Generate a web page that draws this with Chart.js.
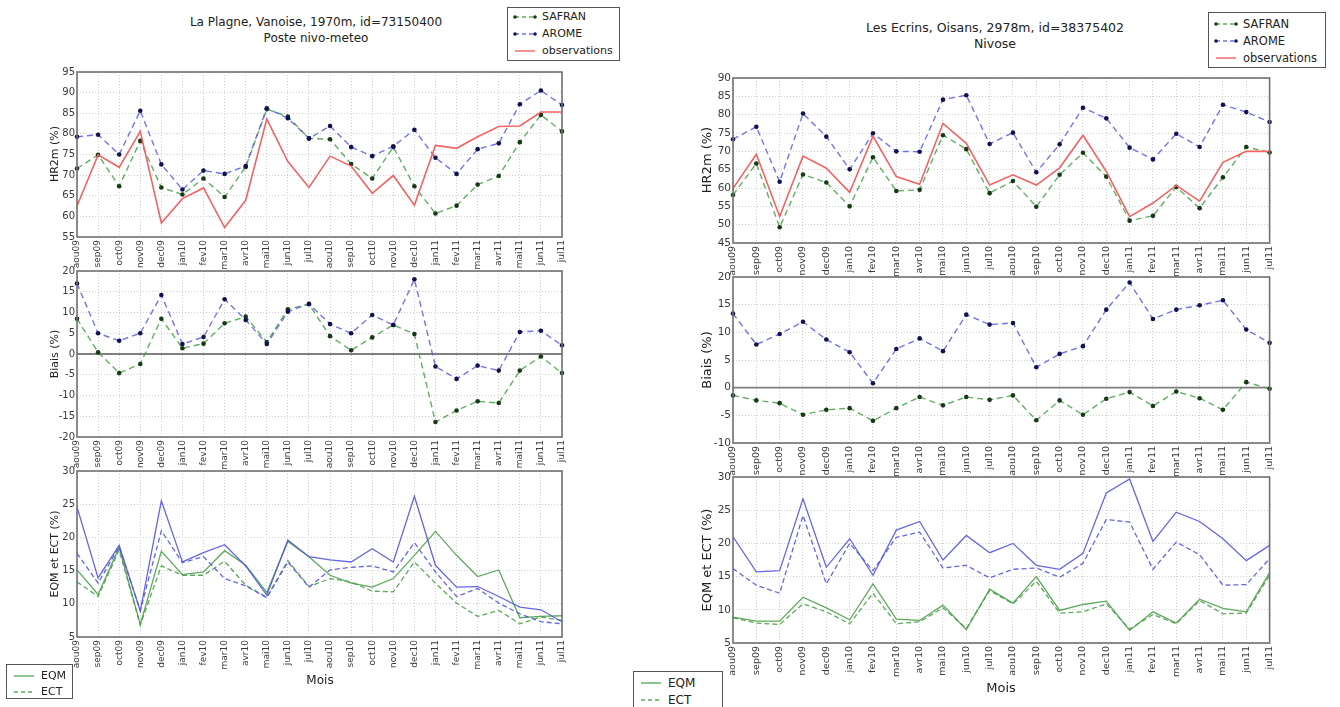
<!DOCTYPE html>
<html>
<head>
<meta charset="utf-8">
<script src="https://cdn.jsdelivr.net/npm/chart.js@4.4.1/dist/chart.umd.min.js"></script>
<style>
  html, body { margin: 0; padding: 0; background: #fff; }
  #root { position: relative; width: 1340px; height: 707px; overflow: hidden; font-family: "DejaVu Sans", sans-serif; color: #222; }
  canvas { position: absolute; }
  .txt { position: absolute; white-space: nowrap; }
  .title { transform: translateX(-50%); text-align: center; line-height: 16px; }
  .ylab { transform: translate(-50%, -50%) rotate(-90deg); }
  .xlab { transform: translate(-50%, -50%); }
  .legend { position: absolute; border: 1px solid #555; background: #fff; box-sizing: border-box; }
  .legend svg { position: absolute; }
  .legend span { position: absolute; }
</style>
</head>
<body>
<div id="root"></div>
<script>
// Months from August 2009 to July 2011
const months = ['aou09','sep09','oct09','nov09','dec09','jan10','fev10','mar10','avr10','mai10','jun10','jul10',
                'aou10','sep10','oct10','nov10','dec10','jan11','fev11','mar11','avr11','mai11','jun11','jul11'];

// La Plagne, Vanoise (1970 m) — relative humidity at 2 m (%)
const plagneSafranHR = [71.6,74.9,67.3,78.3,67.0,65.3,69.2,64.7,72.0,86.0,84.2,78.9,78.7,72.7,69.2,76.8,67.3,60.7,62.6,67.7,69.8,78.0,84.6,80.6];
const plagneAromeHR  = [79.3,79.8,75.0,85.6,72.6,66.5,71.1,70.3,72.2,86.2,83.8,78.9,81.9,76.8,74.6,77.0,81.0,74.2,70.3,76.3,77.7,87.2,90.5,87.0];
const plagneObsHR    = [62.5,74.9,71.9,80.6,58.4,64.3,66.9,57.3,63.9,83.6,73.3,67.0,74.6,72.2,65.6,69.9,62.7,77.2,76.5,79.3,81.8,81.9,85.3,85.3];
// La Plagne — bias (%)
const plagneSafranBias = [8.5,0.4,-4.6,-2.4,8.5,1.4,2.5,7.4,9.0,2.9,10.8,12.0,4.3,0.9,4.0,7.0,4.8,-16.4,-13.6,-11.4,-11.8,-4.0,-0.6,-4.6];
const plagneAromeBias  = [17.0,5.0,3.2,5.0,14.2,2.4,4.1,13.2,8.2,2.4,10.2,12.1,7.2,5.0,9.4,7.0,18.0,-3.0,-6.0,-2.8,-4.0,5.3,5.6,2.1];
// La Plagne — RMSE (EQM) and standard deviation of error (ECT) (%)
const plagneAromeEQM  = [24.6,13.9,18.8,8.9,25.5,16.3,17.7,18.9,15.7,11.3,19.6,17.1,16.6,16.3,18.3,16.3,26.2,15.8,12.5,12.6,11.1,9.5,9.1,7.3];
const plagneAromeECT  = [17.6,13.1,18.6,9.0,21.0,16.2,17.1,13.8,12.7,10.9,16.3,12.5,15.1,15.5,15.7,14.8,19.2,14.8,11.1,12.3,10.1,8.5,7.3,7.0];
const plagneSafranEQM = [15.1,11.4,18.5,6.9,17.9,14.4,14.8,18.0,15.8,11.7,19.4,17.1,14.3,13.1,12.5,13.8,17.3,20.9,17.3,14.1,15.1,7.9,8.1,8.2];
const plagneSafranECT = [13.3,11.1,18.1,6.8,15.7,14.3,14.3,16.4,12.8,11.0,16.5,12.6,13.8,13.3,11.9,11.8,16.3,13.1,10.1,8.1,9.0,7.0,8.0,7.5];

// Les Ecrins, Oisans (2978 m) — relative humidity at 2 m (%)
const ecrinsSafranHR = [58.1,66.7,49.3,63.7,61.5,55.0,68.4,59.2,59.5,74.4,70.6,58.6,61.9,54.9,63.6,69.6,63.1,51.1,52.4,60.3,54.5,62.9,71.2,69.7];
const ecrinsAromeHR  = [73.3,76.7,61.7,80.3,74.0,65.1,74.9,70.0,69.9,84.1,85.3,72.0,75.1,64.3,71.9,81.9,79.0,71.0,67.8,74.8,71.2,82.7,80.7,78.0];
const ecrinsObsHR    = [59.9,69.2,52.2,68.7,65.4,58.8,74.1,63.1,61.0,77.6,72.2,60.8,63.6,60.8,65.5,74.4,64.5,52.2,55.9,60.7,56.4,67.0,70.0,70.0];
// Les Ecrins — bias (%)
const ecrinsSafranBias = [-1.4,-2.3,-2.8,-4.9,-4.0,-3.7,-6.0,-3.7,-1.7,-3.2,-1.7,-2.2,-1.4,-5.9,-2.3,-4.9,-2.0,-0.8,-3.3,-0.7,-1.9,-4.0,1.0,-0.2];
const ecrinsAromeBias  = [13.4,7.8,9.7,11.9,8.7,6.4,0.8,7.0,8.9,6.6,13.2,11.4,11.7,3.7,6.1,7.5,14.1,19.0,12.4,14.1,14.9,15.8,10.5,8.1];
// Les Ecrins — EQM and ECT (%)
const ecrinsAromeEQM  = [21.0,15.7,15.9,26.7,16.4,20.7,15.2,22.0,23.3,17.5,21.2,18.6,20.0,16.7,16.1,18.5,27.6,29.7,20.3,24.7,23.3,20.7,17.4,19.7];
const ecrinsAromeECT  = [16.2,13.7,12.5,24.2,13.9,20.0,15.9,20.9,21.7,16.3,16.7,14.8,16.1,16.3,14.9,17.0,23.6,23.2,16.1,20.2,18.3,13.7,13.8,17.7];
const ecrinsSafranEQM = [8.9,8.3,8.3,11.9,10.3,8.5,13.9,8.6,8.4,10.7,7.0,13.1,11.0,15.0,9.9,10.8,11.3,6.9,9.7,8.0,11.6,10.2,9.7,15.6];
const ecrinsSafranECT = [8.8,8.0,7.8,10.9,9.7,7.9,12.5,7.9,8.2,10.3,7.2,12.9,10.9,14.3,9.5,9.7,10.9,7.1,9.3,7.9,11.4,9.4,9.5,15.2];

const FONT = '"DejaVu Sans", sans-serif';
const C_SAFRAN = 'rgba(70,160,70,0.85)';
const C_SAFRAN_PT = '#183818';
const C_AROME = 'rgba(90,90,230,0.85)';
const C_AROME_PT = '#12124e';
const C_OBS = '#f26464';
const C_EQM_BLUE = 'rgba(85,85,225,0.9)';
const C_EQM_GREEN = 'rgba(75,160,75,0.9)';

const root = document.getElementById('root');

// outer frame of each axes box
const framePlugin = {
  id: 'frame',
  afterDatasetsDraw(chart) {
    const a = chart.chartArea, ctx = chart.ctx;
    ctx.save();
    ctx.strokeStyle = '#707070';
    ctx.lineWidth = 1.6;
    ctx.strokeRect(a.left, a.top, a.right - a.left, a.bottom - a.top);
    ctx.restore();
  }
};
// horizontal reference line at zero for the bias panels
const zeroPlugin = {
  id: 'zeroLine',
  beforeDatasetsDraw(chart, args, opts) {
    if (!opts || !opts.show) return;
    const y = chart.scales.y.getPixelForValue(0);
    const a = chart.chartArea, ctx = chart.ctx;
    ctx.save();
    ctx.strokeStyle = '#808080';
    ctx.lineWidth = 1.8;
    ctx.beginPath(); ctx.moveTo(a.left, y); ctx.lineTo(a.right, y); ctx.stroke();
    ctx.restore();
  }
};

function dashedSeries(data, color, ptColor) {
  return { data, borderColor: color, borderWidth: 1.4, borderDash: [6, 4], pointRadius: 2.3,
           pointBackgroundColor: ptColor, pointBorderWidth: 0, tension: 0, fill: false };
}
function solidSeries(data, color, width) {
  return { data, borderColor: color, borderWidth: width, pointRadius: 0, tension: 0, fill: false };
}

function panel(box, yMin, yMax, datasets, cfg) {
  const PADL = 34, PADT = 9, PADR = 14, PADB = 40;
  const cv = document.createElement('canvas');
  cv.width = box.w + PADL + PADR;
  cv.height = box.h + PADT + PADB;
  cv.style.left = (box.x - PADL) + 'px';
  cv.style.top = (box.y - PADT) + 'px';
  cv.style.width = cv.width + 'px';
  cv.style.height = cv.height + 'px';
  root.appendChild(cv);
  const gridColor = '#cfcfcf';
  new Chart(cv, {
    type: 'line',
    data: { labels: months, datasets },
    plugins: [framePlugin, zeroPlugin],
    options: {
      responsive: false, animation: false, devicePixelRatio: 1,
      layout: { padding: { top: PADT, right: PADR, left: 0, bottom: 0 } },
      plugins: { legend: { display: false }, tooltip: { enabled: false }, zeroLine: { show: !!cfg.zero } },
      scales: {
        x: {
          type: 'category', offset: false,
          grid: { color: gridColor, lineWidth: 1, drawTicks: false },
          border: { display: false, dash: [1, 2] },
          ticks: { autoSkip: false, maxRotation: 90, minRotation: 90, padding: 3,
                   color: '#3a3a3a', font: { family: FONT, size: cfg.xFont } },
          afterFit(s) { s.height = PADB; }
        },
        y: {
          min: yMin, max: yMax,
          grid: { color: gridColor, lineWidth: 1, drawTicks: false },
          border: { display: false, dash: [1, 2] },
          ticks: { stepSize: 5, padding: 2, color: '#3a3a3a', font: { family: FONT, size: cfg.yFont } },
          afterFit(s) { s.width = PADL; }
        }
      }
    }
  });
}

function text(str, x, y, cls, size) {
  const d = document.createElement('div');
  d.className = 'txt ' + cls;
  d.style.left = x + 'px';
  d.style.top = y + 'px';
  d.style.fontSize = size + 'px';
  d.innerHTML = str;
  root.appendChild(d);
}

function lineLegend(x, y, w, h, rows, size) {
  const box = document.createElement('div');
  box.className = 'legend';
  box.style.left = x + 'px'; box.style.top = y + 'px';
  box.style.width = w + 'px'; box.style.height = h + 'px';
  rows.forEach(r => {
    const svg = document.createElementNS('http://www.w3.org/2000/svg', 'svg');
    svg.setAttribute('width', '26'); svg.setAttribute('height', '10');
    svg.style.left = '4px'; svg.style.top = (r.y - 5) + 'px';
    let inner = '<line x1="3" y1="5" x2="23" y2="5" stroke="' + r.color + '" stroke-width="1.4"' +
                (r.dash ? ' stroke-dasharray="' + r.dash + '"' : '') + '/>';
    if (r.pt) inner += '<circle cx="3" cy="5" r="1.8" fill="' + r.pt + '"/><circle cx="23" cy="5" r="1.8" fill="' + r.pt + '"/>';
    svg.innerHTML = inner;
    box.appendChild(svg);
    const s = document.createElement('span');
    s.textContent = r.label;
    s.style.left = '34px';
    s.style.top = (r.y - size * 0.62) + 'px';
    s.style.fontSize = size + 'px';
    box.appendChild(s);
  });
  root.appendChild(box);
}

// ---------- La Plagne (left column) ----------
const L = { x: 77, w: 485 };
panel({ x: L.x, y: 72, w: L.w, h: 165 }, 55, 95, [
  Object.assign(solidSeries(plagneObsHR, C_OBS, 1.6), { order: 0 }),
  Object.assign(dashedSeries(plagneAromeHR, C_AROME, C_AROME_PT), { order: 1 }),
  Object.assign(dashedSeries(plagneSafranHR, C_SAFRAN, C_SAFRAN_PT), { order: 2 })
], { xFont: 9, yFont: 10 });
panel({ x: L.x, y: 271, w: L.w, h: 166 }, -20, 20, [
  dashedSeries(plagneAromeBias, C_AROME, C_AROME_PT),
  dashedSeries(plagneSafranBias, C_SAFRAN, C_SAFRAN_PT)
], { xFont: 9, yFont: 10, zero: true });
panel({ x: L.x, y: 471, w: L.w, h: 166 }, 5, 30, [
  solidSeries(plagneAromeEQM, C_EQM_BLUE, 1.3),
  Object.assign(solidSeries(plagneAromeECT, C_EQM_BLUE, 1.3), { borderDash: [5, 3] }),
  solidSeries(plagneSafranEQM, C_EQM_GREEN, 1.3),
  Object.assign(solidSeries(plagneSafranECT, C_EQM_GREEN, 1.3), { borderDash: [5, 3] })
], { xFont: 9, yFont: 10 });

text('La Plagne, Vanoise, 1970m, id=73150400<br>Poste nivo-meteo', 316, 14, 'title', 12);
text('HR2m (%)', 54, 154, 'ylab', 11);
text('Biais (%)', 54, 354, 'ylab', 11);
text('EQM et ECT (%)', 54, 554, 'ylab', 11);
text('Mois', 320, 680, 'xlab', 12);
lineLegend(507, 7, 113, 54, [
  { label: 'SAFRAN', color: C_SAFRAN, pt: C_SAFRAN_PT, dash: '4 3', y: 9 },
  { label: 'AROME', color: C_AROME, pt: C_AROME_PT, dash: '4 3', y: 26 },
  { label: 'observations', color: C_OBS, y: 43 }
], 11);
lineLegend(6, 664, 67, 35, [
  { label: 'EQM', color: C_EQM_GREEN, y: 11 },
  { label: 'ECT', color: C_EQM_GREEN, dash: '4 3', y: 27 }
], 11);

// ---------- Les Ecrins (right column) ----------
const R = { x: 733, w: 537 };
panel({ x: R.x, y: 78, w: R.w, h: 165 }, 45, 90, [
  Object.assign(solidSeries(ecrinsObsHR, C_OBS, 1.6), { order: 0 }),
  Object.assign(dashedSeries(ecrinsAromeHR, C_AROME, C_AROME_PT), { order: 1 }),
  Object.assign(dashedSeries(ecrinsSafranHR, C_SAFRAN, C_SAFRAN_PT), { order: 2 })
], { xFont: 9.5, yFont: 10.5 });
panel({ x: R.x, y: 277, w: R.w, h: 166 }, -10, 20, [
  dashedSeries(ecrinsAromeBias, C_AROME, C_AROME_PT),
  dashedSeries(ecrinsSafranBias, C_SAFRAN, C_SAFRAN_PT)
], { xFont: 9.5, yFont: 10.5, zero: true });
panel({ x: R.x, y: 477, w: R.w, h: 166 }, 5, 30, [
  solidSeries(ecrinsAromeEQM, C_EQM_BLUE, 1.3),
  Object.assign(solidSeries(ecrinsAromeECT, C_EQM_BLUE, 1.3), { borderDash: [5, 3] }),
  solidSeries(ecrinsSafranEQM, C_EQM_GREEN, 1.3),
  Object.assign(solidSeries(ecrinsSafranECT, C_EQM_GREEN, 1.3), { borderDash: [5, 3] })
], { xFont: 9.5, yFont: 10.5 });

text('Les Ecrins, Oisans, 2978m, id=38375402<br>Nivose', 995, 20, 'title', 12.5);
text('HR2m (%)', 706, 160, 'ylab', 13);
text('Biais (%)', 706, 360, 'ylab', 13);
text('EQM et ECT (%)', 706, 560, 'ylab', 13);
text('Mois', 1001, 687, 'xlab', 13);
lineLegend(1208, 12, 118, 56, [
  { label: 'SAFRAN', color: C_SAFRAN, pt: C_SAFRAN_PT, dash: '4 3', y: 11 },
  { label: 'AROME', color: C_AROME, pt: C_AROME_PT, dash: '4 3', y: 28 },
  { label: 'observations', color: C_OBS, y: 45 }
], 11.5);
lineLegend(633, 671, 90, 38, [
  { label: 'EQM', color: C_EQM_GREEN, y: 11 },
  { label: 'ECT', color: C_EQM_GREEN, dash: '4 3', y: 28 }
], 12);
</script>
</body>
</html>
